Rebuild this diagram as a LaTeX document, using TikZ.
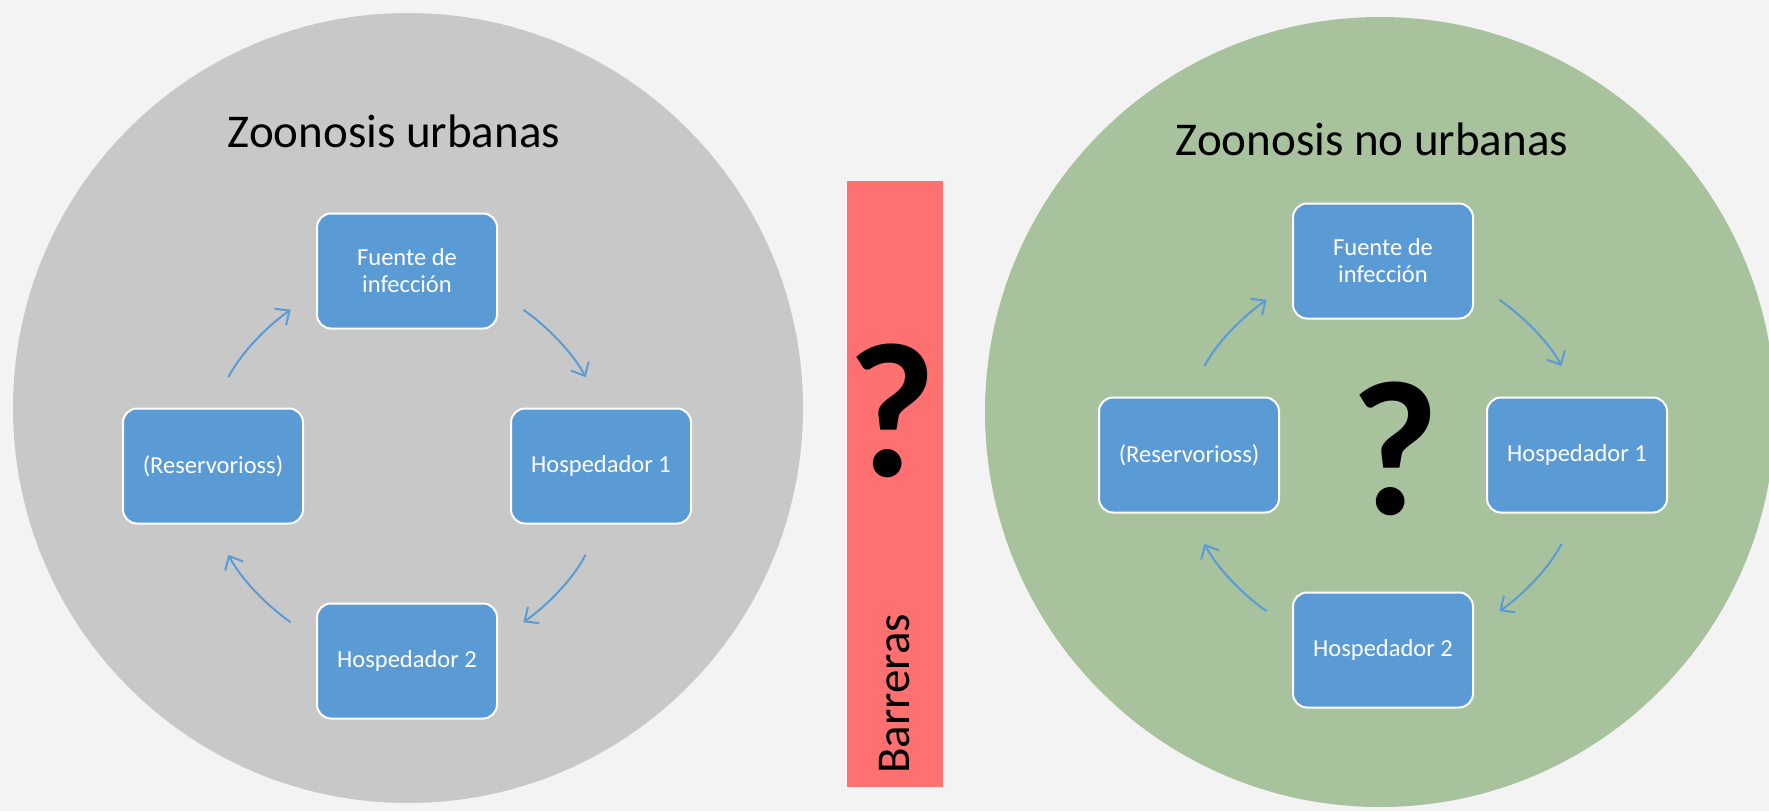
\documentclass[tikz,border=0pt]{standalone}
\usepackage{fontspec}
\setmainfont{Carlito}
\usetikzlibrary{arrows.meta}

\definecolor{fondo}{RGB}{243,243,243}
\definecolor{grisurb}{RGB}{201,200,200}
\definecolor{verdeno}{RGB}{169,194,158}
\definecolor{azulcaja}{RGB}{91,155,213}
\definecolor{rojobar}{RGB}{255,112,112}

\begin{document}
\begin{tikzpicture}[x=1pt,y=1pt]
\tikzstyle{caja}=[rectangle,rounded corners=14pt,draw=white,line width=2pt,fill=azulcaja,text=white,minimum width=180pt,minimum height=115pt,align=center,inner sep=2pt,font=\fontsize{24.5}{27}\selectfont]
\tikzstyle{ciclo}=[-{Straight Barb[length=11pt,width=20pt]},draw=azulcaja,line width=2pt]
\tikzstyle{titulo}=[anchor=base,inner sep=0pt,font=\fontsize{47}{56}\selectfont]
\tikzstyle{pregunta}=[inner sep=0pt,font=\fontsize{192}{230}\selectfont\bfseries]

\fill[fondo] (0,0) rectangle (1769,-811);
\clip (0,0) rectangle (1769,-811);

% fondos redondos
\fill[grisurb] (408,-408) circle (395);
\fill[verdeno] (1380,-412) circle (395);

% barrera
\fill[rojobar] (847,-181) rectangle (943,-787);
\node[pregunta] (qbarra) at (892,-411) {?};
\node[rotate=90,inner sep=0pt,font=\fontsize{47}{56}\selectfont] (barreras) at (895,-694) {Barreras};

% zoonosis urbanas
\node[titulo] (turb) at (394,-147) {Zoonosis urbanas};
\node[caja] (Fu) at (407,-271) {Fuente de\\infección};
\node[caja] (Hu1) at (601,-466) {Hospedador 1};
\node[caja] (Hu2) at (407,-661) {Hospedador 2};
\node[caja] (Ru) at (213,-466) {(Reservorioss)};

\draw[ciclo,shorten <=31pt,shorten >=34pt] (Fu.-13) to[out=-35,in=117] (Hu1.north);
\draw[ciclo,shorten <=34pt,shorten >=31pt] (Hu1.south) to[out=-117,in=35] (Hu2.13);
\draw[ciclo,shorten <=31pt,shorten >=34pt] (Hu2.167) to[out=145,in=-63] (Ru.south);
\draw[ciclo,shorten <=34pt,shorten >=31pt] (Ru.north) to[out=63,in=-145] (Fu.193);

% zoonosis no urbanas
\node[titulo] (tnourb) at (1372,-155) {Zoonosis no urbanas};
\node[caja] (Fn) at (1383,-261) {Fuente de\\infección};
\node[caja] (Hn1) at (1577,-455) {Hospedador 1};
\node[caja] (Hn2) at (1383,-650) {Hospedador 2};
\node[caja] (Rn) at (1189,-455) {(Reservorioss)};
\node[pregunta] (qcentro) at (1395,-449) {?};

\draw[ciclo,shorten <=31pt,shorten >=34pt] (Fn.-13) to[out=-35,in=117] (Hn1.north);
\draw[ciclo,shorten <=34pt,shorten >=31pt] (Hn1.south) to[out=-117,in=35] (Hn2.13);
\draw[ciclo,shorten <=31pt,shorten >=34pt] (Hn2.167) to[out=145,in=-63] (Rn.south);
\draw[ciclo,shorten <=34pt,shorten >=31pt] (Rn.north) to[out=63,in=-145] (Fn.193);
\end{tikzpicture}
\end{document}
